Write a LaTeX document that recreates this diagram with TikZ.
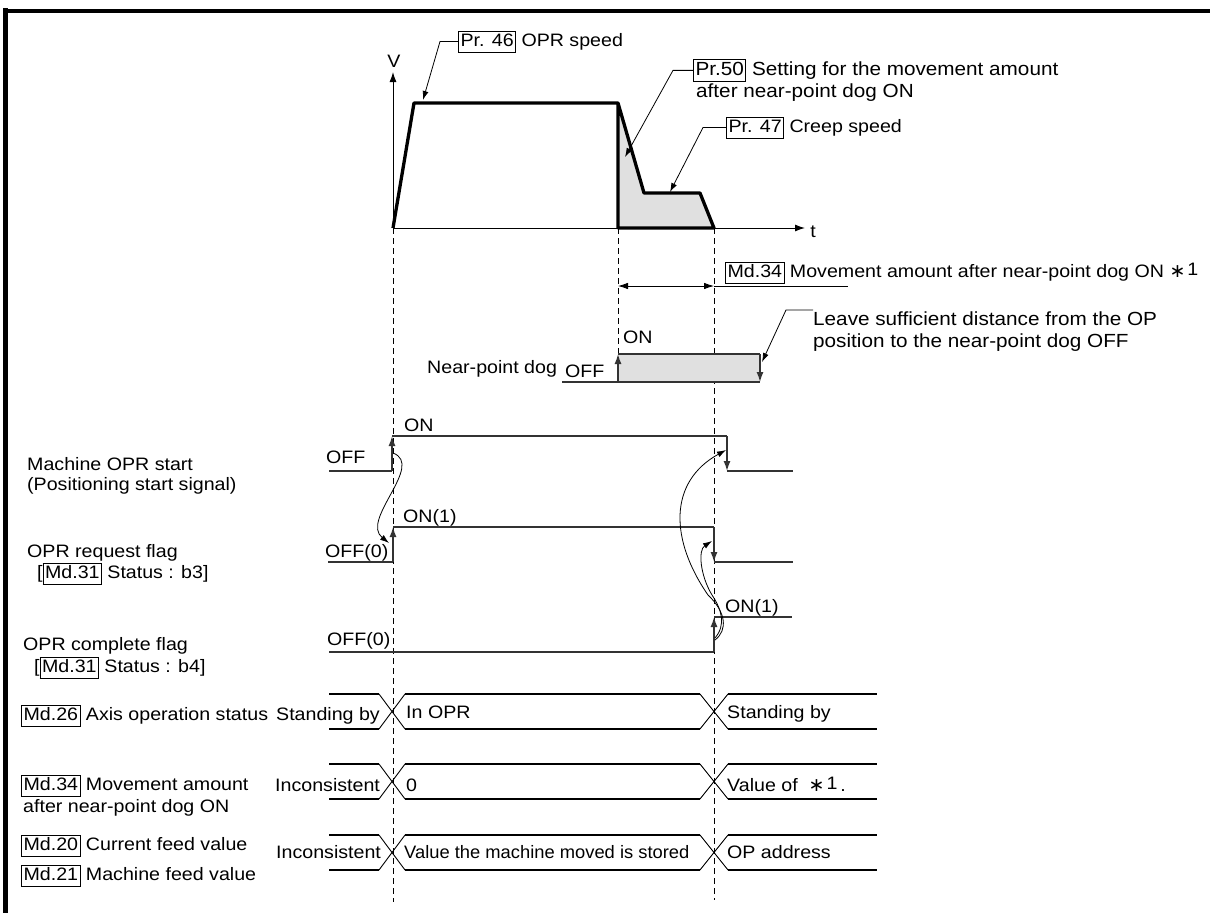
\documentclass[tikz,border=0pt]{standalone}
\usepackage{fontspec}
\setmainfont{Liberation Sans}[FakeStretch=1.09]
\newfontfamily\dvfont{DejaVu Sans}
\usetikzlibrary{arrows.meta}
\newcommand{\bx}[1]{{\setlength{\fboxsep}{1.5pt}\setlength{\fboxrule}{0.9pt}\fbox{\rule[-4pt]{0pt}{17pt}#1}}}
\newcommand{\astone}{{\dvfont\fontsize{19}{22}\selectfont ∗}\hspace{2pt}\raisebox{2pt}{1}}
\definecolor{shadegray}{HTML}{E0E0E0}
\begin{document}
\begin{tikzpicture}[x=1pt,y=-1pt,font=\fontsize{18}{22}\selectfont,
  txt/.style={anchor=base west,inner sep=0pt},
  bigtxt/.style={txt,font=\fontsize{19}{22}\selectfont},
  tipA/.style={-{Latex[length=10pt,width=7pt]}},
  tipC/.style={-{Latex[length=9pt,width=6pt]}},
  sig/.style={line width=1.4pt,draw=black!80},
  thinl/.style={line width=0.8pt},
  axisl/.style={line width=1pt},
  prof/.style={line width=3.3pt,line join=round},
  dsh/.style={line width=1pt,dash pattern=on 6pt off 4pt},
  bus/.style={line width=2.2pt},
  busx/.style={line width=0.9pt}]
\useasboundingbox (0,0) rectangle (1210,913);
% frame
\fill (3.3,7.5) rectangle (7.7,913);
\fill (3.3,9) rectangle (1210,12.7);

% ---------- speed graph ----------
\coordinate (O) at (393,228);
\coordinate (Vtop) at (393,72);
\coordinate (ttip) at (805,228);
\fill[shadegray] (618,103) -- (644,193) -- (700,193) -- (714,228) -- (618,228) -- cycle;
\draw[axisl,tipA] (O) -- (Vtop);
\draw[axisl,tipA] (O) -- (ttip);
\node (V) at (394,61) {V};
\node (t) at (813,232) {t};
\draw[prof] (O) -- (414,103) -- (618,103) -- (644,193) -- (700,193) -- (714,228) -- (618,228) -- (618,103);

% dashed guides
\draw[dsh] (393,228) -- (393,902);
\draw[dsh] (618,228) -- (618,354);
\draw[dsh] (714,228) -- (714,900);

% labels on speed graph
\node[txt] (p46) at (458,46) {\bx{Pr. 46} OPR speed};
\draw[thinl,tipC] (p46.west) -- ++(-18,0) -- (423,100);
\node[bigtxt] (p50) at (693,75) {\bx{Pr.50} Setting for the movement amount};
\node[bigtxt] (p50b) at (696,97) {after near-point dog ON};
\draw[thinl,tipC] (p50.west) -- ++(-20,0) -- (625,157);
\node[txt] (p47) at (726,132) {\bx{Pr. 47} Creep speed};
\draw[thinl,tipC] (p47.west) -- ++(-23,0) -- (670,192);

% Md.34 dimension
\node[txt] (m34) at (725,277) {\bx{Md.34} Movement amount after near-point dog ON \astone};
\coordinate (dimL) at (618,286);
\coordinate (dimR) at (714,286);
\coordinate (dimE) at (848,286);
\draw[thinl,{Latex[length=10pt,width=6.5pt]}-{Latex[length=10pt,width=6.5pt]}] (dimL) -- (dimR);
\draw[thinl] (dimR) -- (dimE);

% ---------- near-point dog ----------
\node[txt] (npd) at (427,373) {Near-point dog};
\node[txt] (npdoff) at (565,377) {OFF};
\node[txt] (npdon) at (623,343) {ON};
\fill[shadegray] (618,354) rectangle (760,382);
\draw[sig] (562,382) -- (760,382);
\draw[sig] (618,354) -- (760,354);
\draw[sig,tipA] (618,382) -- (618,354);
\draw[sig,tipA] (760,354) -- (760,382);
\node[bigtxt] (leave1) at (813,325) {Leave sufficient distance from the OP};
\node[bigtxt] (leave2) at (813,347) {position to the near-point dog OFF};
\draw[thinl,tipC] (813,310) -- (786,310) -- (762,362);

% ---------- Machine OPR start ----------
\node[txt] (mos1) at (27,470) {Machine OPR start};
\node[txt] (mos2) at (27,490) {(Positioning start signal)};
\node[txt] (mosoff) at (326,463) {OFF};
\node[txt] (moson) at (404,431) {ON};
\draw[sig] (329,471) -- (392,471);
\draw[sig,tipA] (392,471) -- (392,436);
\draw[sig] (392,436) -- (727,436);
\draw[sig,tipA] (727,436) -- (727,471);
\draw[sig] (727,471) -- (793,471);

% ---------- OPR request flag ----------
\node[txt] (rq1) at (27,557) {OPR request flag};
\node[txt] (rq2) at (37,578) {[\bx{Md.31} Status : b3]};
\node[txt] (rqoff) at (325,557) {OFF(0)};
\node[txt] (rqon) at (403,522) {ON(1)};
\draw[sig] (328,562) -- (393,562);
\draw[sig,tipA] (393,562) -- (393,527);
\draw[sig] (393,527) -- (714,527);
\draw[sig,tipA] (714,527) -- (714,562);
\draw[sig] (714,562) -- (793,562);

% ---------- OPR complete flag ----------
\node[txt] (cp1) at (23,650) {OPR complete flag};
\node[txt] (cp2) at (34,672) {[\bx{Md.31} Status : b4]};
\node[txt] (cpoff) at (327,645) {OFF(0)};
\node[txt] (cpon) at (725,612) {ON(1)};
\draw[sig] (329,652) -- (714,652);
\draw[sig,tipA] (714,652) -- (714,617);
\draw[sig] (714,617) -- (792,617);

% causal curves
\draw[thinl,tipC] (393,453) .. controls (425,465) and (360,520) .. (389,543);
\draw[thinl,tipC] (715,640) .. controls (728,630) and (726,612) .. (708,595) .. controls (670,540) and (668,482) .. (726,450);
\draw[thinl,tipC] (715,638) .. controls (726,625) and (722,610) .. (712,595) .. controls (700,575) and (698,550) .. (712,541);

% ---------- buses ----------
% Md.26
\node[txt] (b26) at (21,720) {\bx{Md.26} Axis operation status};
\draw[bus] (329,694) -- (379,694);  \draw[bus] (329,729) -- (379,729);
\draw[busx] (379,694) -- (405,729); \draw[busx] (379,729) -- (405,694);
\draw[bus] (405,694) -- (700,694);  \draw[bus] (405,729) -- (700,729);
\draw[busx] (700,694) -- (728,729); \draw[busx] (700,729) -- (728,694);
\draw[bus] (728,694) -- (877,694);  \draw[bus] (728,729) -- (877,729);
\node[txt] (s26a) at (276,720) {Standing by};
\node[txt] (s26b) at (406,718) {In OPR};
\node[txt] (s26c) at (727,718) {Standing by};

% Md.34
\node[txt] (b34a) at (21,790) {\bx{Md.34} Movement amount};
\node[txt] (b34b) at (23,812) {after near-point dog ON};
\draw[bus] (329,764) -- (379,764);  \draw[bus] (329,799) -- (379,799);
\draw[busx] (379,764) -- (405,799); \draw[busx] (379,799) -- (405,764);
\draw[bus] (405,764) -- (700,764);  \draw[bus] (405,799) -- (700,799);
\draw[busx] (700,764) -- (728,799); \draw[busx] (700,799) -- (728,764);
\draw[bus] (728,764) -- (877,764);  \draw[bus] (728,799) -- (877,799);
\node[txt] (s34a) at (275,791) {Inconsistent};
\node[txt] (s34b) at (406,791) {0};
\node[txt] (s34c) at (727,791) {Value of \ \astone\,.};

% Md.20 / Md.21
\node[txt] (b20) at (21,850) {\bx{Md.20} Current feed value};
\node[txt] (b21) at (21,880) {\bx{Md.21} Machine feed value};
\draw[bus] (329,835) -- (379,835);  \draw[bus] (329,870) -- (379,870);
\draw[busx] (379,835) -- (405,870); \draw[busx] (379,870) -- (405,835);
\draw[bus] (405,835) -- (700,835);  \draw[bus] (405,870) -- (700,870);
\draw[busx] (700,835) -- (728,870); \draw[busx] (700,870) -- (728,835);
\draw[bus] (728,835) -- (877,835);  \draw[bus] (728,870) -- (877,870);
\node[txt] (s20a) at (276,858) {Inconsistent};
\node[txt] (s20b) at (404,858) {\scalebox{0.935}[1]{Value the machine moved is stored}};
\node[txt] (s20c) at (727,858) {OP address};
\end{tikzpicture}
\end{document}
